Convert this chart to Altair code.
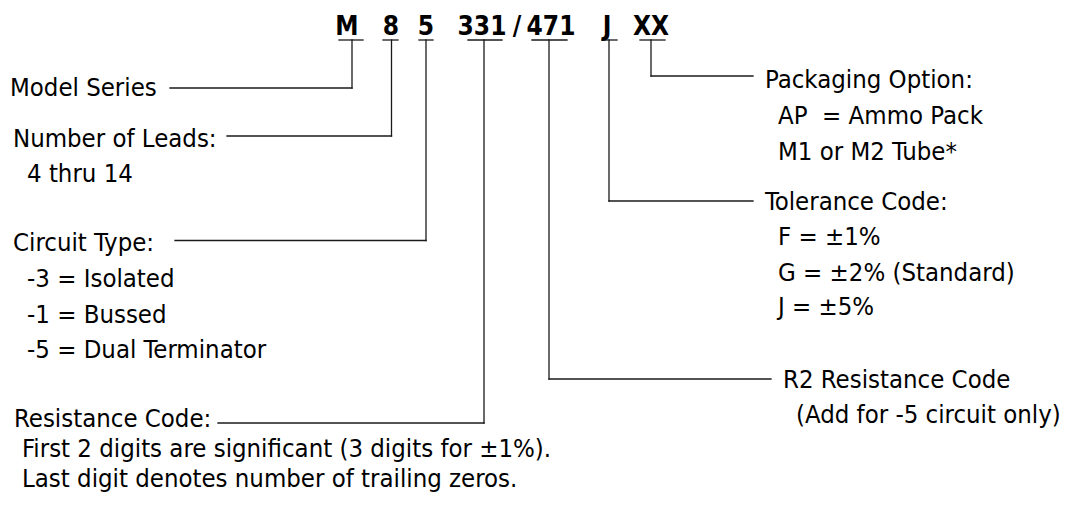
import altair as alt
import pandas as pd

# ---- content ----
code_parts = ["M", "8", "5", "331", "/", "471", "J", "XX"]
code_center_x = [347, 391, 426, 482, 517, 551, 607, 651]
code_baseline_y = 35

label_texts = [
    "Model Series",
    "Number of Leads:",
    "4 thru 14",
    "Circuit Type:",
    "-3 = Isolated",
    "-1 = Bussed",
    "-5 = Dual Terminator",
    "Resistance Code:",
    "First 2 digits are significant (3 digits for \u00b11%).",
    "Last digit denotes number of trailing zeros.",
    "Packaging Option:",
    "AP\u00a0 = Ammo Pack",
    "M1 or M2 Tube*",
    "Tolerance Code:",
    "F = \u00b11%",
    "G = \u00b12% (Standard)",
    "J = \u00b15%",
    "R2 Resistance Code",
    "(Add for -5 circuit only)",
]
label_x = [10, 13, 27, 13, 27, 27, 27, 14, 22, 22,
           765, 778, 778, 765, 778, 778, 778, 783, 796]
label_y = [96, 147, 182, 251, 287, 323, 358, 427, 457, 487,
           88, 124, 160, 210, 245, 281, 315, 388, 423]

# underline under each code part (x start, x end)
underline_x1 = [339, 383, 419, 468, 532, 602, 640]
underline_x2 = [363, 398, 433, 502, 567, 617, 665]
underline_y = 40

# leader line: tick x, elbow y, end x
leader_x = [352, 391.5, 426, 484, 549, 609, 651]
leader_y = [88, 136, 240.5, 423, 379, 201, 76]
leader_end_x = [170, 227, 175, 218, 771, 753, 753]

# ---- tables ----
code_df = pd.DataFrame({"t": code_parts, "x": code_center_x,
                        "y": [code_baseline_y] * len(code_parts)})
lab_df = pd.DataFrame({"t": label_texts, "x": label_x, "y": label_y})

segs = []
for a, b in zip(underline_x1, underline_x2):
    segs.append({"x": a, "x2": b, "y": underline_y, "y2": underline_y})
for lx, ly, ex in zip(leader_x, leader_y, leader_end_x):
    segs.append({"x": lx, "x2": lx, "y": underline_y, "y2": ly})
    segs.append({"x": lx, "x2": ex, "y": ly, "y2": ly})
seg_df = pd.DataFrame(segs)

W, H = 1054, 490
xs = alt.Scale(domain=[8, 8 + W], nice=False, zero=False)
ys = alt.Scale(domain=[8, 8 + H], nice=False, zero=False, reverse=True)

FONT = "DejaVu Sans Condensed, Liberation Sans Narrow, Arial Narrow, sans-serif"

rules = alt.Chart(seg_df).mark_rule(color="#1a1a1a", strokeWidth=1.3, strokeCap="square").encode(
    x=alt.X("x:Q", scale=xs, axis=None),
    x2="x2:Q",
    y=alt.Y("y:Q", scale=ys, axis=None),
    y2="y2:Q",
)

code = alt.Chart(code_df).mark_text(
    font=FONT, fontSize=26, fontWeight="bold", align="center",
    baseline="alphabetic", color="black"
).encode(
    x=alt.X("x:Q", scale=xs, axis=None),
    y=alt.Y("y:Q", scale=ys, axis=None),
    text="t:N",
)

labels = alt.Chart(lab_df).mark_text(
    font=FONT, fontSize=25.5, align="left", baseline="alphabetic", color="black"
).encode(
    x=alt.X("x:Q", scale=xs, axis=None),
    y=alt.Y("y:Q", scale=ys, axis=None),
    text="t:N",
)

chart = alt.layer(rules, code, labels).properties(
    width=W, height=H, padding=0, autosize=alt.AutoSizeParams(type="none"),
    background="white"
).configure_view(stroke=None)

chart.save("out.html", embed_options={"renderer": "svg", "actions": False})
